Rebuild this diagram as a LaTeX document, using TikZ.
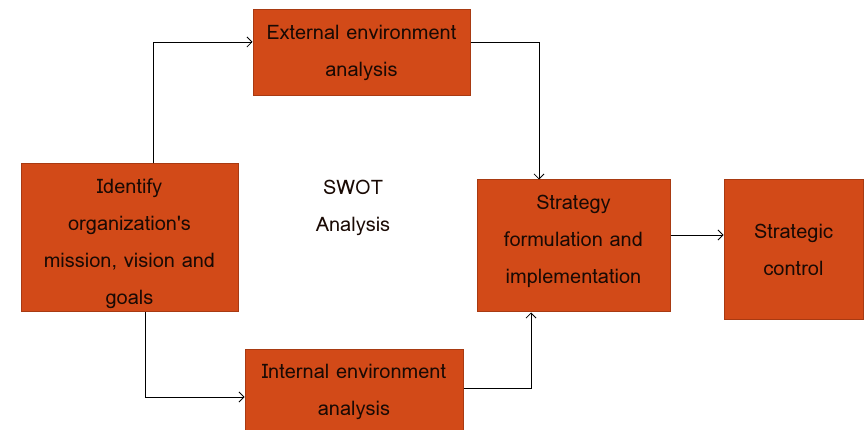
\documentclass[tikz,border=0pt]{standalone}
\usepackage{fontspec}
\newfontfamily\lomafont{Loma}[Ligatures=NoCommon]
\usetikzlibrary{arrows.meta}
\definecolor{boxfill}{HTML}{D24A18}
\definecolor{boxline}{HTML}{A83A12}
\definecolor{txt}{HTML}{1A0A04}
\tikzset{
  box/.style={draw=boxline, line width=1pt, fill=boxfill, inner sep=0pt},
  lbl/.style={text=txt, align=center, inner sep=0pt, font=\lomafont\fontsize{20}{37}\selectfont},
  conn/.style={draw=black, line width=0.9pt, -{Straight Barb[length=5pt,width=10pt,line width=0.8pt]}},
}
\begin{document}
\begin{tikzpicture}[x=1pt,y=-1pt]
\useasboundingbox (0,0) rectangle (865,430);
\begin{scope}
\clip (0,0) rectangle (865,430);
\node[box, minimum width=217pt, minimum height=86pt] (ext) at (361.5,53) {};
\node[box, minimum width=217pt, minimum height=148pt] (id) at (129.5,238) {};
\node[box, minimum width=218pt, minimum height=84pt] (int) at (354,392) {};
\node[box, minimum width=193pt, minimum height=132pt] (sf) at (573.5,246) {};
\node[box, minimum width=139pt, minimum height=140pt] (sc) at (793.5,250) {};
\end{scope}
\node[lbl] (extt) at ([yshift=0pt]ext.center) {External environment\\analysis};
\node[lbl] (idt) at ([yshift=-5.5pt]id.center) {Identify\\organization's\\mission, vision and\\goals};
\node[lbl] (intt) at ([yshift=0pt]int.center) {Internal environment\\analysis};
\node[lbl] (sft) at ([yshift=4.5pt]sf.center) {Strategy\\formulation and\\implementation};
\node[lbl] (sct) at (sc.center) {Strategic\\control};
\node[lbl] (swot) at (353,208) {SWOT\\Analysis};
\coordinate (c1) at (153,42);
\coordinate (c2) at (539,42);
\coordinate (c3) at (145,397);
\coordinate (c4) at (531,388);
\coordinate (c5) at (700,235);
\draw[conn] (id.north -| c1) |- (ext.west |- c1);
\draw[conn] (ext.east |- c2) -| (sf.north -| c2);
\draw[conn] (id.south -| c3) |- (int.west |- c3);
\draw[conn] (int.east |- c4) -| (sf.south -| c4);
\draw[conn] (sf.east |- c5) -- (sc.west |- c5);
\end{tikzpicture}
\end{document}
